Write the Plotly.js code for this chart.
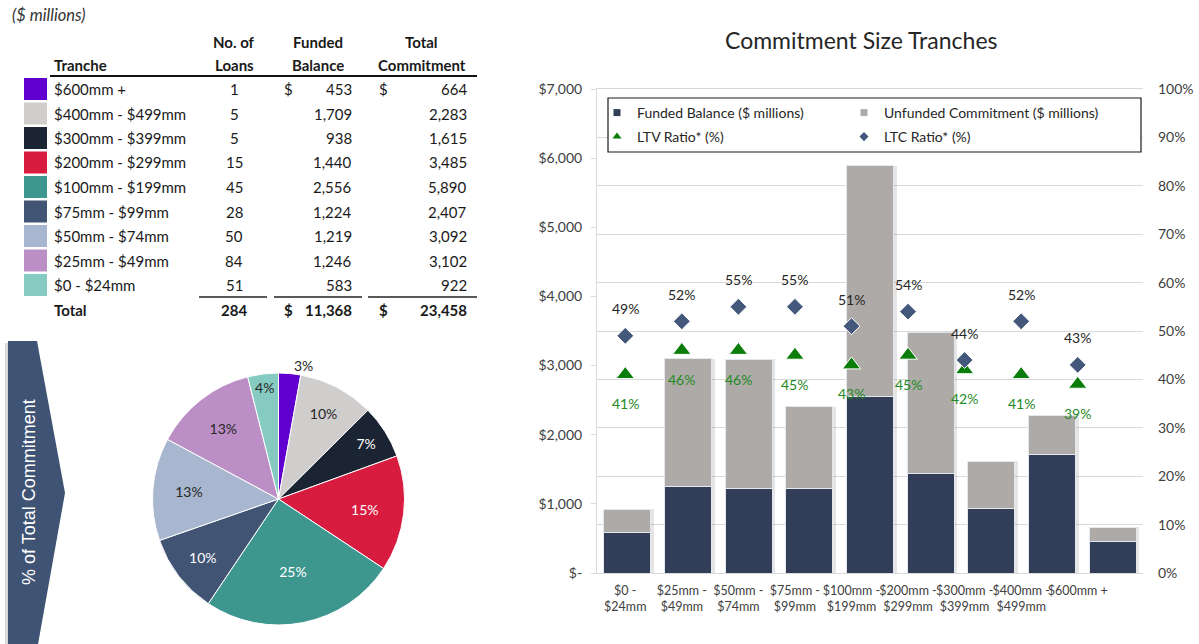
<!DOCTYPE html>
<html><head><meta charset="utf-8">
<script src="https://cdn.plot.ly/plotly-3.0.1.min.js"></script>
<style>html,body{margin:0;padding:0;background:#fff}#chart{width:1199px;height:644px}</style>
</head><body><div id="chart"></div>
<script>
// ---------------- data ----------------
const tranches = ['$600mm +', '$400mm - $499mm', '$300mm - $399mm', '$200mm - $299mm', '$100mm - $199mm', '$75mm - $99mm', '$50mm - $74mm', '$25mm - $49mm', '$0 - $24mm'];
const trancheColors = ['#6000cf', '#d0cdcd', '#1b2433', '#d81c40', '#3d978e', '#415474', '#a8b7cf', '#bb8fc5', '#86cbc2'];
const loans = [1, 5, 5, 15, 45, 28, 50, 84, 51];
const fundedBalance = [453, 1709, 938, 1440, 2556, 1224, 1219, 1246, 583];
const totalCommitment = [664, 2283, 1615, 3485, 5890, 2407, 3092, 3102, 922];
const tableTotals = [284, 11368, 23458];
const pieTextColors = ['#262626', '#262626', '#ffffff', '#ffffff', '#ffffff', '#ffffff', '#262626', '#262626', '#262626'];
const pieTextPositions = ['outside', 'inside', 'inside', 'inside', 'inside', 'inside', 'inside', 'inside', 'inside'];

const barCategories = ['$0 -<br>$24mm', '$25mm -<br>$49mm', '$50mm -<br>$74mm', '$75mm -<br>$99mm', '$100mm -<br>$199mm', '$200mm -<br>$299mm', '$300mm -<br>$399mm', '$400mm -<br>$499mm', '$600mm +'];
const barFunded = [583, 1246, 1219, 1224, 2556, 1440, 938, 1709, 453];
const barTotal = [922, 3102, 3092, 2407, 5890, 3485, 1615, 2283, 664];
const ltvRatio = [0.41, 0.46, 0.46, 0.45, 0.43, 0.45, 0.42, 0.41, 0.39];
const ltcRatio = [0.49, 0.52, 0.55, 0.55, 0.51, 0.54, 0.44, 0.52, 0.43];
const leftTickVals = [0, 1000, 2000, 3000, 4000, 5000, 6000, 7000];
const leftTickText = ['$-', '$1,000', '$2,000', '$3,000', '$4,000', '$5,000', '$6,000', '$7,000'];
const seriesNames = ['Funded Balance ($ millions)', 'Unfunded Commitment ($ millions)', 'LTV Ratio* (%)', 'LTC Ratio* (%)'];

// ---------------- helpers ----------------
const W = 1199, H = 644;
const px = x => x / W;
const py = y => 1 - y / H;
const FONT = 'Lato, "Open Sans", sans-serif';
const fmt = v => v.toLocaleString('en-US');
const barUnfunded = barTotal.map((t, i) => t - barFunded[i]);

const FUNDED_C = '#323e57', UNFUNDED_C = '#aeaaa7', LTC_C = '#44587b', LTV_C = '#0a7d0a';
const YDOM = [py(573), py(89)];

const annotations = [];
const shapes = [];
function txt(text, x, y, xanchor, opts) {
  opts = opts || {};
  annotations.push({
    xref: 'paper', yref: 'paper', x: px(x), y: py(y), xanchor: xanchor, yanchor: 'middle',
    text: text, showarrow: false, borderpad: 0,
    font: Object.assign({family: FONT, size: 15, color: '#1a1a1a'}, opts.font || {}),
    textangle: opts.angle || 0
  });
}

// ---------------- table ----------------
txt('<i>($ millions)</i>', 11, 15, 'left', {font: {size: 16.5, color: '#333'}});
txt('<b>No. of</b>', 234, 42, 'center');
txt('<b>Funded</b>', 318, 42, 'center');
txt('<b>Total</b>', 421, 42, 'center');
txt('<b>Tranche</b>', 53, 65, 'left');
txt('<b>Loans</b>', 234, 65, 'center');
txt('<b>Balance</b>', 318, 65, 'center');
txt('<b>Commitment</b>', 422, 65, 'center');
shapes.push({type: 'line', xref: 'paper', yref: 'paper', x0: px(50), x1: px(477), y0: py(76), y1: py(76), line: {color: '#111', width: 2}});

const ROW0 = 89, ROWH = 24.5;
tranches.forEach((t, i) => {
  const y = ROW0 + i * ROWH;
  shapes.push({type: 'rect', xref: 'paper', yref: 'paper', x0: px(24), x1: px(47), y0: py(y + 11), y1: py(y - 11),
    fillcolor: trancheColors[i], line: {width: 0}});
  txt(t, 53, y, 'left');
  txt(String(loans[i]), 234, y, 'center');
  txt(fmt(fundedBalance[i]), 353, y, 'right');
  txt(fmt(totalCommitment[i]), 468, y, 'right');
  if (i === 0) { txt('$', 283, y, 'left'); txt('$', 378, y, 'left'); }
});
[[199, 267], [274, 362], [368, 477]].forEach(s => shapes.push({type: 'line', xref: 'paper', yref: 'paper',
  x0: px(s[0]), x1: px(s[1]), y0: py(297), y1: py(297), line: {color: '#222', width: 1.3}}));
const yT = ROW0 + tranches.length * ROWH;
txt('<b>Total</b>', 53, yT, 'left');
txt('<b>' + tableTotals[0] + '</b>', 234, yT, 'center');
txt('<b>$</b>', 283, yT, 'left');
txt('<b>' + fmt(tableTotals[1]) + '</b>', 353, yT, 'right');
txt('<b>$</b>', 378, yT, 'left');
txt('<b>' + fmt(tableTotals[2]) + '</b>', 468, yT, 'right');

// ---------------- arrow label ----------------
const arrowPath = (dx, dy) => `M ${px(8 + dx)},${py(341 + dy)} L ${px(37 + dx)},${py(341 + dy)} L ${px(65 + dx)},${py(493 + dy)} L ${px(37 + dx)},${py(650 + dy)} L ${px(8 + dx)},${py(650 + dy)} Z`;
shapes.push({type: 'path', xref: 'paper', yref: 'paper', path: arrowPath(-3, 2), fillcolor: 'rgba(0,0,0,0.15)', line: {width: 0}, layer: 'below'});
shapes.push({type: 'path', xref: 'paper', yref: 'paper', path: arrowPath(0, 0), fillcolor: '#3f5374', line: {width: 0}, layer: 'below'});
txt('% of Total Commitment', 29, 492, 'center', {angle: -90, font: {family: '"Liberation Sans", Arial, sans-serif', size: 18, color: '#ffffff'}});

// ---------------- chart title ----------------
txt('Commitment Size Tranches', 861, 40, 'center', {font: {size: 23, color: '#262626'}});

// ---------------- legend box ----------------
shapes.push({type: 'rect', xref: 'paper', yref: 'paper', x0: px(608), x1: px(1141), y0: py(152), y1: py(98),
  fillcolor: '#ffffff', line: {color: '#1a1a1a', width: 1.2}, layer: 'above'});

// ---------------- point labels ----------------
barCategories.forEach((c, i) => {
  annotations.push({xref: 'x3', yref: 'y2', x: c, y: ltcRatio[i], text: Math.round(ltcRatio[i] * 100) + '%',
    showarrow: false, yshift: 27, font: {family: FONT, size: 14, color: '#262626'}});
  annotations.push({xref: 'x3', yref: 'y2', x: c, y: ltvRatio[i], text: Math.round(ltvRatio[i] * 100) + '%',
    showarrow: false, yshift: -29, font: {family: FONT, size: 14, color: '#1f8a1f'}});
});

// ---------------- traces ----------------
const traces = [
  // shadows
  {type: 'bar', x: barCategories, y: barTotal, xaxis: 'x', yaxis: 'y', marker: {color: 'rgba(0,0,0,0.10)'},
    showlegend: false, hoverinfo: 'skip'},
  // bars
  {type: 'bar', x: barCategories, y: barFunded, xaxis: 'x2', yaxis: 'y', name: seriesNames[0],
    marker: {color: FUNDED_C, line: {color: '#e4e7ee', width: 1}}, showlegend: false},
  {type: 'bar', x: barCategories, y: barUnfunded, xaxis: 'x2', yaxis: 'y', name: seriesNames[1],
    marker: {color: UNFUNDED_C, line: {color: '#e4e7ee', width: 1}}, showlegend: false},
  // markers
  {type: 'scatter', mode: 'markers', x: barCategories, y: ltvRatio, xaxis: 'x3', yaxis: 'y2', name: seriesNames[2],
    marker: {symbol: 'triangle-up', size: 16, color: LTV_C, line: {color: '#ffffff', width: 1}}, showlegend: false},
  {type: 'scatter', mode: 'markers', x: barCategories, y: ltcRatio, xaxis: 'x3', yaxis: 'y2', name: seriesNames[3],
    marker: {symbol: 'diamond', size: 13, color: LTC_C, line: {color: '#ffffff', width: 1}}, showlegend: false},
  // legend entries (one legend each, for a 2x2 grid)
  {type: 'scatter', mode: 'markers', x: [null], y: [null], xaxis: 'x3', yaxis: 'y2', name: seriesNames[0], legend: 'legend',
    marker: {symbol: 'square', size: 7, color: FUNDED_C}},
  {type: 'scatter', mode: 'markers', x: [null], y: [null], xaxis: 'x3', yaxis: 'y2', name: seriesNames[1], legend: 'legend2',
    marker: {symbol: 'square', size: 7, color: UNFUNDED_C}},
  {type: 'scatter', mode: 'markers', x: [null], y: [null], xaxis: 'x3', yaxis: 'y2', name: seriesNames[2], legend: 'legend3',
    marker: {symbol: 'triangle-up', size: 8, color: LTV_C}},
  {type: 'scatter', mode: 'markers', x: [null], y: [null], xaxis: 'x3', yaxis: 'y2', name: seriesNames[3], legend: 'legend4',
    marker: {symbol: 'diamond', size: 7, color: LTC_C}},
  // pie
  {type: 'pie', values: totalCommitment, labels: tranches, sort: false, direction: 'clockwise', rotation: 0,
    domain: {x: [px(152), px(405)], y: [py(625), py(373)]},
    marker: {colors: trancheColors, line: {color: '#ffffff', width: 1}},
    texttemplate: '%{percent:.0%}', textposition: pieTextPositions, insidetextorientation: 'horizontal',
    textfont: {family: FONT, size: 14, color: pieTextColors}, showlegend: false, hoverinfo: 'label+percent'}
];

const legendBase = (x, y) => ({x: px(x), y: py(y), xref: 'paper', yref: 'paper', xanchor: 'left', yanchor: 'top',
  bgcolor: 'rgba(0,0,0,0)', borderwidth: 0, font: {family: FONT, size: 14, color: '#262626'}, itemclick: false, itemdoubleclick: false});

const layout = {
  width: W, height: H, margin: {l: 0, r: 0, t: 0, b: 0},
  paper_bgcolor: '#ffffff', plot_bgcolor: 'rgba(0,0,0,0)',
  font: {family: FONT, color: '#404040'},
  barmode: 'stack', bargap: 0.225,
  showlegend: true,
  legend: legendBase(597, 97),
  legend2: legendBase(844, 97),
  legend3: legendBase(597, 121),
  legend4: legendBase(844, 121),
  xaxis: {domain: [px(597), px(1143)], type: 'category', range: [-0.55, 8.45], showticklabels: false, ticks: '',
    showgrid: false, zeroline: false, showline: true, mirror: true, linecolor: '#d9d9d9', anchor: 'y'},
  xaxis2: {overlaying: 'x', type: 'category', range: [-0.5, 8.5], visible: false, anchor: 'y'},
  xaxis3: {domain: [px(597), px(1106)], type: 'category', range: [-0.5, 8.5], anchor: 'y2', showgrid: false,
    zeroline: false, showline: false, ticks: '', tickangle: 0, ticklabelstandoff: 8,
    tickfont: {family: FONT, size: 12.5, color: '#404040'}},
  yaxis: {domain: YDOM, range: [0, 7000], anchor: 'x', tickvals: leftTickVals, ticktext: leftTickText,
    ticks: 'outside', ticklen: 5, tickcolor: '#d9d9d9', showline: true, linecolor: '#d9d9d9', showgrid: false,
    zeroline: false, tickfont: {family: FONT, size: 14, color: '#404040'}, ticklabelstandoff: 6,
    minor: {tickmode: 'linear', tick0: 0, dtick: 700, showgrid: true, gridcolor: '#d9d9d9', gridwidth: 1, ticks: ''}},
  yaxis2: {domain: YDOM, range: [0, 1], anchor: 'free', position: px(1143), side: 'right', tickformat: '.0%',
    tickmode: 'linear', tick0: 0, dtick: 0.1, showgrid: false, zeroline: false, showline: false, ticks: '',
    tickfont: {family: FONT, size: 14, color: '#404040'}, ticklabelstandoff: 14},
  annotations: annotations,
  shapes: shapes
};

Plotly.newPlot('chart', traces, layout, {staticPlot: true, displayModeBar: false, typesetMath: false});
</script></body></html>
